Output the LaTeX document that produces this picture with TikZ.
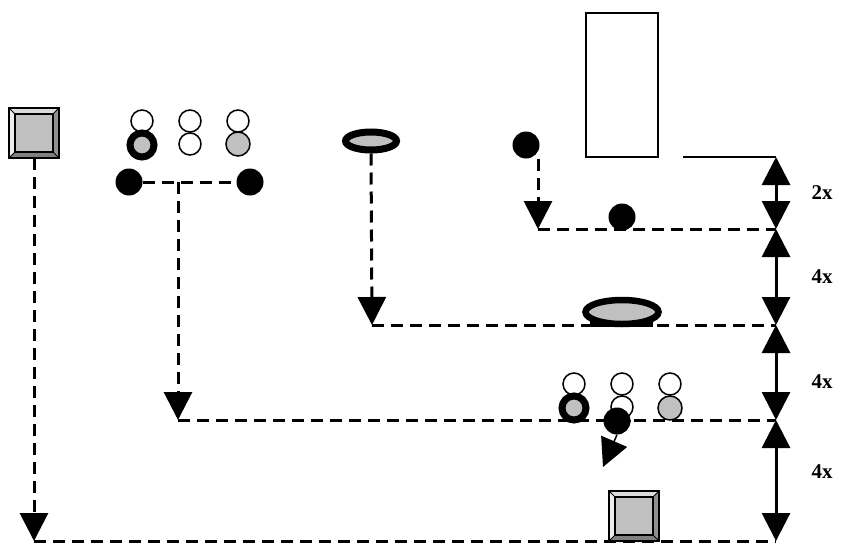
\documentclass[tikz,border=0pt]{standalone}
\usepackage{fontspec}
\setmainfont{Liberation Serif}
\usetikzlibrary{arrows.meta,shapes.geometric}
\definecolor{fillgray}{HTML}{C0C0C0}
\definecolor{bevlight}{HTML}{EEEEEE}
\definecolor{bevtop}{HTML}{DCDCDC}
\definecolor{bevright}{HTML}{909090}
\definecolor{bevbottom}{HTML}{808080}
\tikzset{
  conn/.style={line width=3pt, dash pattern=on 12pt off 7pt},
  bigtip/.style={-{Triangle[length=28pt,width=28pt]}},
  dim/.style={line width=3pt, {Triangle[length=28pt,width=28pt]}-{Triangle[length=28pt,width=28pt]}},
  ball/.style={circle, fill=black, minimum size=27pt, inner sep=0pt},
  ringw/.style={circle, draw=black, line width=1.5pt, fill=white, minimum size=22pt, inner sep=0pt},
  ringg/.style={circle, draw=black, line width=1.5pt, fill=fillgray, minimum size=24pt, inner sep=0pt},
  ringthick/.style={circle, draw=black, line width=7pt, fill=fillgray, minimum size=24pt, inner sep=0pt},
  lbl/.style={font=\bfseries\fontsize{21}{24}\selectfont, inner sep=0pt},
  bevel/.style={minimum size=50pt, inner sep=0pt}
}
\newcommand{\bevelsq}[3]{% name, x, y (center)
  \node[bevel] (#1) at (#2,#3) {};
  \begin{scope}[shift={(#2,#3)}]
    \fill[bevlight] (-25,-25) -- (-19,-19) -- (-19,19) -- (-25,25) -- cycle;
    \fill[bevtop] (-25,-25) -- (25,-25) -- (19,-19) -- (-19,-19) -- cycle;
    \fill[bevright] (25,-25) -- (25,25) -- (19,19) -- (19,-19) -- cycle;
    \fill[bevbottom] (-25,25) -- (25,25) -- (19,19) -- (-19,19) -- cycle;
    \fill[fillgray] (-19,-19) rectangle (19,19);
    \draw[line width=1.2pt] (-25,-25) rectangle (25,25);
    \draw[line width=1.2pt] (-19,-19) rectangle (19,19);
    \draw[line width=0.8pt] (-25,-25) -- (-19,-19) (25,-25) -- (19,-19) (25,25) -- (19,19) (-25,25) -- (-19,19);
  \end{scope}}
\begin{document}
\begin{tikzpicture}[x=1pt,y=-1pt]
\useasboundingbox (0,0) rectangle (850,543);

% ---- reference coordinates ----
\coordinate (cA) at (34,541);
\coordinate (cB) at (178,420);
\coordinate (cC) at (372,325);
\coordinate (cD) at (538,229);
\coordinate (rA) at (776,541);
\coordinate (rB) at (776,420);
\coordinate (rC) at (776,325);
\coordinate (rD) at (776,229);
\coordinate (rE) at (776,157);
\coordinate (lineL) at (683,157);
\coordinate (jn) at (178,182);

% ---- top-left bevel square ----
\bevelsq{sqA}{34}{133}

% ---- top-left pairs of circles ----
\node[ringw] (p1t) at (142,121) {};
\node[ringthick] (p1b) at (142,145) {};
\node[ringw] (p2t) at (190,121) {};
\node[ringw] (p2b) at (190,144) {};
\node[ringw] (p3t) at (238,121) {};
\node[ringg] (p3b) at (238,144) {};

% ---- two black balls ----
\node[ball] (b1) at (129,182) {};
\node[ball] (b2) at (250,182) {};

% ---- top ellipse ----
\node[ellipse, draw=black, line width=7pt, fill=fillgray, minimum width=51pt, minimum height=18pt, inner sep=0pt] (elA) at (371,141) {};

% ---- top-right ball and rectangle ----
\node[ball] (b3) at (526,145) {};
\node[draw=black, line width=1.8pt, minimum width=72pt, minimum height=144pt, inner sep=0pt] (rect) at (622,85) {};
\node[ball] (b4) at (622,217) {};

% ---- lower ellipse ----
\node[ellipse, draw=black, line width=6.5pt, fill=fillgray, minimum width=73pt, minimum height=24pt, inner sep=0pt] (elB) at (622,312) {};
\fill[black] (590,321) rectangle (653,327);

% ---- lower pairs ----
\node[ringw] (q1t) at (574,384) {};
\node[ringw] (q2t) at (622,384) {};
\node[ringw] (q3t) at (670,384) {};
\node[ringw] (q2b) at (622,407) {};
\node[ringg] (q3b) at (670,408) {};

% ---- bottom bevel square ----
\bevelsq{sqB}{634}{516}

% ---- dashed connectors ----
\draw[conn] (cA) -- (rA);
\draw[conn] (cB) -- (rB);
\draw[conn] (cC) -- (rC);
\draw[conn] (cD) -- (rD);
\draw[conn] (b1) -- (b2);
\draw[conn, bigtip] (sqA.south) -- (cA);
\draw[conn, bigtip] (jn) -- (cB);
\draw[conn, bigtip] (elA.south) -- (cC);
\draw[conn, bigtip] (b3.south -| cD) -- (cD);

% redraw items lying on the lines
\node[ringthick] (q1b) at (574,408) {};
\node[ball] (b5) at (617,421) {};
\draw[line width=2.5pt] (b5.west) -- (b5.east);
\coordinate (fallTip) at (603,467);
\draw[line width=1.5pt, -{Triangle[length=28pt,width=28pt]}] (b5.south) -- (fallTip);

% ---- solid line and dimension arrows ----
\draw[line width=1.8pt] (lineL) -- (rE);
\draw[dim] (rE) -- (rD);
\draw[dim] (rD) -- (rC);
\draw[dim] (rC) -- (rB);
\draw[dim] (rB) -- (rA);

% ---- labels ----
\node[lbl] (l1) at (822,193) {2x};
\node[lbl] (l2) at (822,277) {4x};
\node[lbl] (l3) at (822,382) {4x};
\node[lbl] (l4) at (822,472) {4x};
\end{tikzpicture}
\end{document}
